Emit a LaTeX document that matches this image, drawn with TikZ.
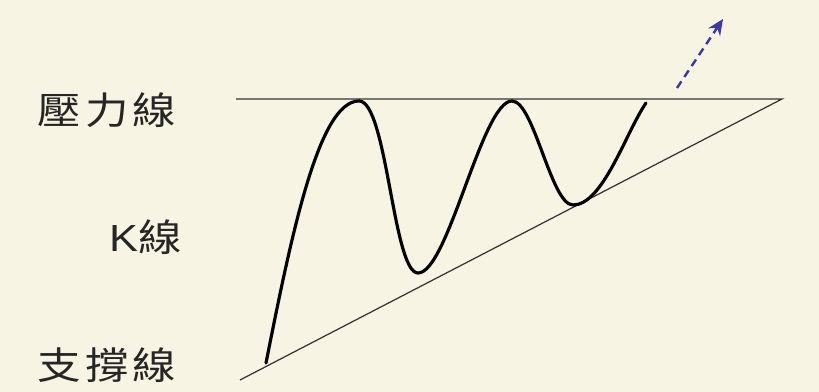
\documentclass[tikz,border=0pt]{standalone}
\usepackage{fontspec}
\newfontfamily\cjkfont{Noto Sans CJK TC}
\newfontfamily\latinfont{Liberation Sans}
\usetikzlibrary{arrows.meta}
\definecolor{paper}{HTML}{F8F4E3}
\definecolor{trendblue}{HTML}{3A3AA0}
\tikzset{
  lbl/.style={font=\cjkfont\fontsize{21.5}{24}\selectfont, text=black!85, inner sep=0pt, xscale=1.15},
  thinline/.style={draw=black!80, line width=0.7pt},
  kline/.style={draw=black, line width=1.8pt, line cap=round},
}
\begin{document}
\begin{tikzpicture}[x=0.02cm, y=0.02cm]
  \fill[paper] (0,0) rectangle (819,392);
  \useasboundingbox (0,0) rectangle (819,392);
  % labels
  \node[lbl, anchor=west] (lblPressure) at (37,282) {\addfontfeatures{LetterSpace=10}壓力線};
  \node[lbl, anchor=east] (lblK) at (182,155) {{\latinfont\fontsize{21.5}{24}\selectfont K}線};
  \node[lbl, anchor=west] (lblSupport) at (37,27) {\addfontfeatures{LetterSpace=10}支撐線};
  % triangle
  \coordinate (resL) at (236,293);
  \coordinate (apex) at (782,293);
  \coordinate (supL) at (240,12);
  \draw[thinline] (resL) -- (apex) -- (supL);
  % K line
  \coordinate (k0) at (266,29);
  \coordinate (k1) at (359,291);
  \coordinate (k2) at (418,119);
  \coordinate (k3) at (512,291);
  \coordinate (k4) at (573,187);
  \coordinate (k5) at (646,289);
  \draw[kline] (k0) .. controls (292,160) and (319,291) .. (k1)
    .. controls (387,291) and (393,119) .. (k2)
    .. controls (448,119) and (482,291) .. (k3)
    .. controls (534,291) and (551,187) .. (k4)
    .. controls (603,187) and (626,260) .. (k5);
  % breakout
  \coordinate (brk0) at (677,304);
  \coordinate (brk1) at (723,373);
  \draw[trendblue, line width=1.4pt, dash pattern=on 4.5pt off 3pt, -{Stealth[length=9pt,width=8pt]}] (brk0) -- (brk1);
\end{tikzpicture}
\end{document}
